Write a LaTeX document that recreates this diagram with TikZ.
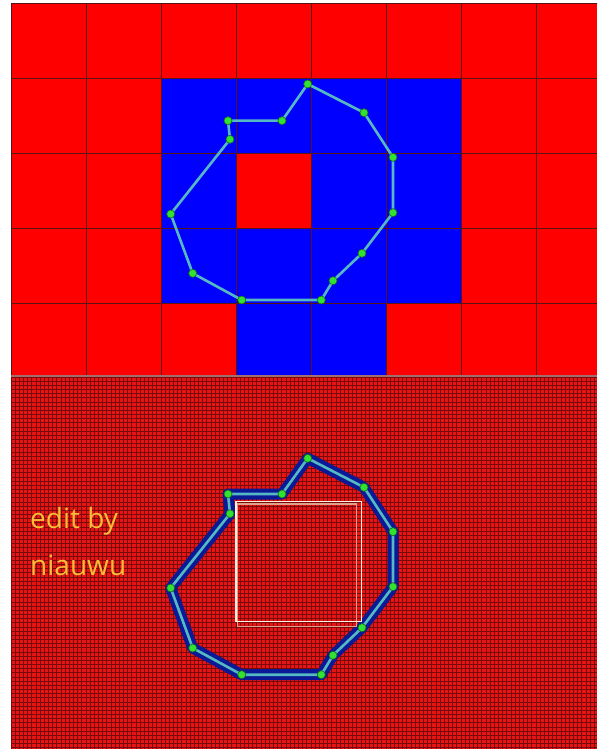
\documentclass[tikz,border=0pt]{standalone}
\usepackage{fontspec}
\setmainfont{Open Sans}
\definecolor{cred}{RGB}{255,0,0}
\definecolor{cblue}{RGB}{0,0,255}
\definecolor{cgrid}{RGB}{90,20,20}
\definecolor{cfine}{RGB}{120,10,10}
\definecolor{cfinebg}{RGB}{230,20,20}
\definecolor{csep}{RGB}{165,110,110}
\definecolor{cvfill}{RGB}{50,225,50}
\definecolor{cvdraw}{RGB}{20,110,20}
\definecolor{cedge}{RGB}{85,185,195}
\definecolor{cband}{RGB}{10,25,150}
\definecolor{crectA}{RGB}{225,160,140}
\definecolor{crectB}{RGB}{255,240,220}
\definecolor{ctext}{RGB}{250,190,55}
\begin{document}
\begin{tikzpicture}[x=1pt,y=-1pt,
  cellred/.style={fill=cred},
  cellblue/.style={fill=cblue},
  gridline/.style={draw=cgrid,line width=0.9pt},
  finegrid/.style={draw=cfine,line width=0.75pt},
  vtx/.style={circle,inner sep=0pt,minimum size=8pt,fill=cvfill,draw=cvdraw,line width=0.6pt},
  edgeline/.style={draw=cedge,line width=2.6pt},
  bandline/.style={draw=cband,line width=11pt,line join=round,line cap=round},
  labeltext/.style={anchor=base west,inner sep=0pt,text=ctext,font=\fontsize{28}{32}\selectfont}
]
\useasboundingbox (0,0) rectangle (597,749);
\fill[white] (0,0) rectangle (597,749);
% ---------- top coarse grid ----------
\begin{scope}
\clip (11,3) rectangle (597,375);
\fill[cellred] (11,3) rectangle (597,375);
\fill[cellblue] (161,78) rectangle (461,153);
\fill[cellblue] (161,153) rectangle (236,228);
\fill[cellblue] (311,153) rectangle (461,228);
\fill[cellblue] (161,228) rectangle (461,303);
\fill[cellblue] (236,303) rectangle (386,375);
\foreach \i in {0,...,8} { \draw[gridline] (11+75*\i,3) -- (11+75*\i,375); }
\foreach \j in {0,...,5} { \draw[gridline] (11,3+75*\j) -- (611,3+75*\j); }
\end{scope}
% ---------- bottom fine grid ----------
\begin{scope}
\clip (11,377) rectangle (597,749);
\fill[cfinebg] (11,377) rectangle (597,749);
\foreach \i in {0,...,142} { \draw[finegrid] (11+4.1667*\i,377) -- (11+4.1667*\i,749); }
\foreach \j in {0,...,90} { \draw[finegrid] (11,377+4.1667*\j) -- (597,377+4.1667*\j); }
\end{scope}
\draw[csep,line width=2pt] (11,376) -- (597,376);
% ---------- top polygon ----------
\foreach \n/\x/\y in {1/307.7/84,2/364/112.7,3/393/157.3,4/393/212.7,5/362/253.3,6/333/280.7,7/321.3/300,8/241.7/300,9/192.7/273.3,10/170.7/214,11/230/139.3,12/228/120.7,13/282/120.7}
  { \coordinate (p\n) at (\x,\y); }
\draw[edgeline] (p1) -- (p2) -- (p3) -- (p4) -- (p5) -- (p6) -- (p7) -- (p8) -- (p9) -- (p10) -- (p11) -- (p12) -- (p13) -- cycle;
\foreach \n in {1,...,13} { \node[vtx] (pn\n) at (p\n) {}; }
% ---------- bottom polygon ----------
\foreach \n/\x/\y in {1/307.7/458.3,2/364/487.3,3/393/531.7,4/393/586.7,5/362/627.7,6/333/655.3,7/321.3/674.7,8/241.7/674.7,9/192.7/648,10/170.7/588,11/230/513.7,12/228/494,13/282/494}
  { \coordinate (q\n) at (\x,\y); }
\draw[bandline] (q1) -- (q2) -- (q3) -- (q4) -- (q5) -- (q6) -- (q7) -- (q8) -- (q9) -- (q10) -- (q11) -- (q12) -- (q13) -- cycle;
\draw[crectA,line width=1.2pt] (237.5,504) rectangle (356.7,626.7);
\draw[crectB,line width=1.5pt] (236,501.7) rectangle (361.3,621.7);
\draw[edgeline] (q1) -- (q2) -- (q3) -- (q4) -- (q5) -- (q6) -- (q7) -- (q8) -- (q9) -- (q10) -- (q11) -- (q12) -- (q13) -- cycle;
\foreach \n in {1,...,13} { \node[vtx] (qn\n) at (q\n) {}; }
% ---------- text ----------
\node[labeltext] (t1) at (30,528) {edit by};
\node[labeltext] (t2) at (30,575) {niauwu};
\end{tikzpicture}
\end{document}
